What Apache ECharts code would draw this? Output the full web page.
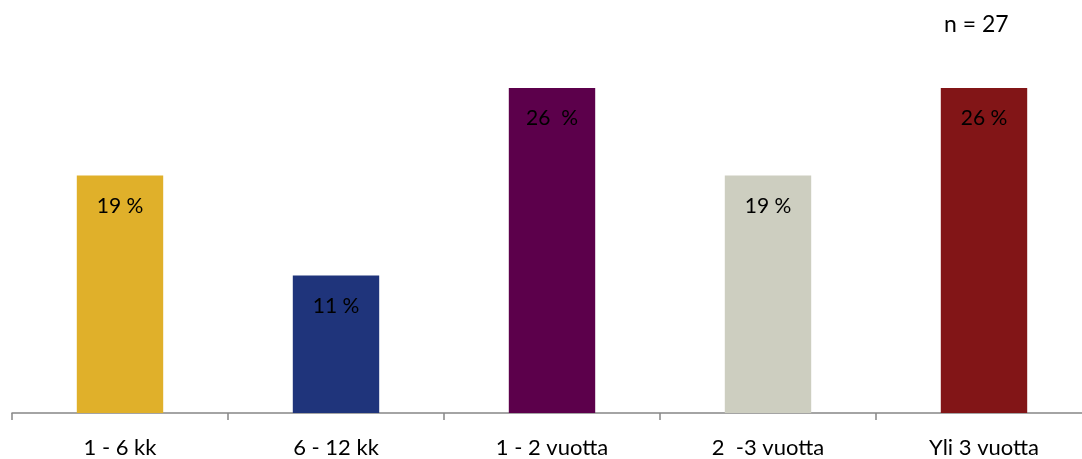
<!DOCTYPE html>
<html>
<head>
<meta charset="utf-8">
<script src="https://cdn.jsdelivr.net/npm/echarts@6/dist/echarts.min.js"></script>
<style>
  html, body { margin: 0; padding: 0; background: #ffffff; overflow: hidden; }
  #wrap { width: 1082px; height: 459px; overflow: hidden; }
  /* plot runs a little past the right edge so the last category is clipped */
  #chart { width: 1092px; height: 459px; }
</style>
</head>
<body>
<div id="wrap"><div id="chart"></div></div>
<script>
// Duration categories and their shares (%), n = 27 respondents
const categories = ['1 - 6 kk', '6 - 12 kk', '1 - 2 vuotta', '2  -3 vuotta', 'Yli 3 vuotta'];
const shares = [19, 11, 26, 19, 26];
const valueLabels = ['19 %', '11 %', '26  %', '19 %', '26 %'];
const barColors = ['#E0B02A', '#1F347B', '#5C004B', '#CDCEC0', '#821517'];
const sampleNote = 'n = 27';

const FONT = 'Lato, "Open Sans", "Noto Sans", sans-serif';

const chart = echarts.init(document.getElementById('chart'), null, { renderer: 'canvas' });

chart.setOption({
  animation: false,
  backgroundColor: '#ffffff',
  graphic: [{
    type: 'text',
    left: 944,
    top: 13,
    style: { text: sampleNote, fontFamily: FONT, fontSize: 23, fill: '#000000' }
  }],
  grid: { left: 12, right: 0, top: 88, bottom: 46, containLabel: false },
  xAxis: {
    type: 'category',
    data: categories,
    axisLine: { show: true, lineStyle: { color: '#868686', width: 1.5 } },
    axisTick: { show: true, alignWithLabel: false, length: 7, lineStyle: { color: '#868686', width: 1.5 } },
    axisLabel: {
      interval: 0,
      margin: 24,
      fontFamily: FONT,
      fontSize: 22,
      color: '#000000'
    }
  },
  yAxis: {
    type: 'value',
    min: 0,
    max: 26,
    show: false,
    splitLine: { show: false }
  },
  series: [{
    type: 'bar',
    barWidth: '40%',
    data: shares.map((v, i) => ({ value: v, itemStyle: { color: barColors[i] } })),
    label: {
      show: true,
      position: 'insideTop',
      distance: 20,
      fontFamily: FONT,
      fontSize: 21,
      color: '#000000',
      formatter: p => valueLabels[p.dataIndex]
    }
  }]
});
</script>
</body>
</html>
